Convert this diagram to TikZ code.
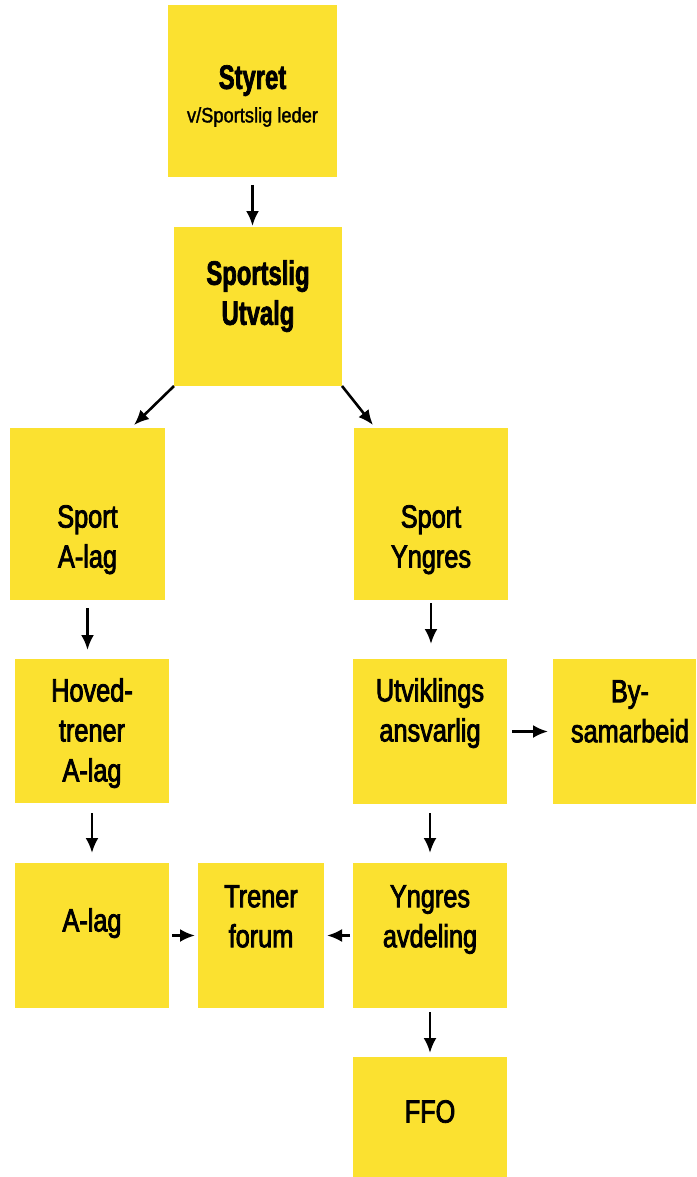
\documentclass[tikz,border=0pt]{standalone}
\usepackage{fontspec}
\setmainfont{Liberation Sans}
\newfontfamily\regfont{Liberation Sans}[FakeStretch=0.79,FakeBold=2.5]
\newfontfamily\boldfont{Liberation Sans}[FakeStretch=0.70,FakeBold=2]
\newfontfamily\subfont{Liberation Sans}[FakeStretch=0.87,FakeBold=1.5]
\usetikzlibrary{arrows.meta,calc}
\definecolor{boxyellow}{RGB}{251,225,48}
\newcommand\mybox[5]{\node[box, minimum width={(#4-#2)*1pt}, minimum height={(#5-#3)*1pt}] (#1) at ({(#2+#4)/2},{(#3+#5)/2}) {};}
\begin{document}
\begin{tikzpicture}[x=1pt,y=-1pt,
  box/.style={fill=boxyellow, draw=none, inner sep=0pt, outer sep=0pt},
  txt/.style={anchor=north, align=center, inner sep=0pt, font={\regfont\fontsize{32}{40}\selectfont}},
  btxt/.style={anchor=north, align=center, inner sep=0pt, font={\boldfont\bfseries\fontsize{34}{40}\selectfont}},
  stxt/.style={anchor=north, align=center, inner sep=0pt, font={\subfont\fontsize{21}{26}\selectfont}},
  arr/.style={line width=2.6pt, -{Latex[length=15pt,width=13pt]}}]
\useasboundingbox (0,0) rectangle (696,1177);
% boxes
\mybox{st}{168}{5}{337}{177}
\mybox{su}{174}{227}{342}{386}
\mybox{sa}{10}{428}{165}{600}
\mybox{sy}{354}{428}{508}{600}
\mybox{hv}{15}{659}{169}{803}
\mybox{ut}{353}{659}{507}{804}
\mybox{by}{553}{659}{696}{804}
\mybox{al}{15}{863}{169}{1008}
\mybox{tf}{198}{863}{324}{1008}
\mybox{ya}{353}{863}{507}{1008}
\mybox{ffo}{353}{1057}{507}{1177}
% texts
\node[btxt] (st-t) at (252.5,65) {Styret};
\node[stxt] (st-s) at (252.5,107) {v/Sportslig leder};
\node[btxt] (su-t) at (258,260) {Sportslig\\Utvalg};
\node[txt] (sa-t) at (87.5,505) {Sport\\A-lag};
\node[txt] (sy-t) at (431,505) {Sport\\Yngres};
\node[txt] (hv-t) at (92,678) {Hoved-\\trener\\A-lag};
\node[txt] (ut-t) at (430,678) {Utviklings\\ansvarlig};
\node[txt] (by-t) at (630,680) {By-\\samarbeid};
\node[txt] (al-t) at (92,908) {A-lag};
\node[txt] (tf-t) at (261,885) {Trener\\forum};
\node[txt] (ya-t) at (430,885) {Yngres\\avdeling};
\node[txt] (ffo-t) at (430,1100) {FFO};
% arrows
\draw[arr, shorten <=8pt, shorten >=1pt] (st.south) -- (st.south |- su.north);
\draw[arr] (su.south west) -- ([shift={(-31,-3)}]sa.north east);
\draw[arr] (su.south east) -- ([shift={(19,-3)}]sy.north west);
\draw[arr, shorten <=8pt, shorten >=9pt] (sa.south) -- (sa.south |- hv.north);
\draw[arr, shorten <=3pt, shorten >=15pt] (sy.south) -- (sy.south |- ut.north);
\draw[arr, shorten <=5pt, shorten >=5pt] (ut.east) -- (ut.east -| by.west);
\draw[arr, shorten <=10pt, shorten >=10pt] (hv.south) -- (hv.south |- al.north);
\draw[arr, shorten <=9pt, shorten >=10pt] (ut.south) -- (ut.south |- ya.north);
\draw[arr, shorten <=3pt, shorten >=3pt] (al.east) -- (al.east -| tf.west);
\draw[arr, shorten <=3pt, shorten >=3pt] (ya.west) -- (ya.west -| tf.east);
\draw[arr, shorten <=4pt, shorten >=4pt] (ya.south) -- (ya.south |- ffo.north);
\end{tikzpicture}
\end{document}
